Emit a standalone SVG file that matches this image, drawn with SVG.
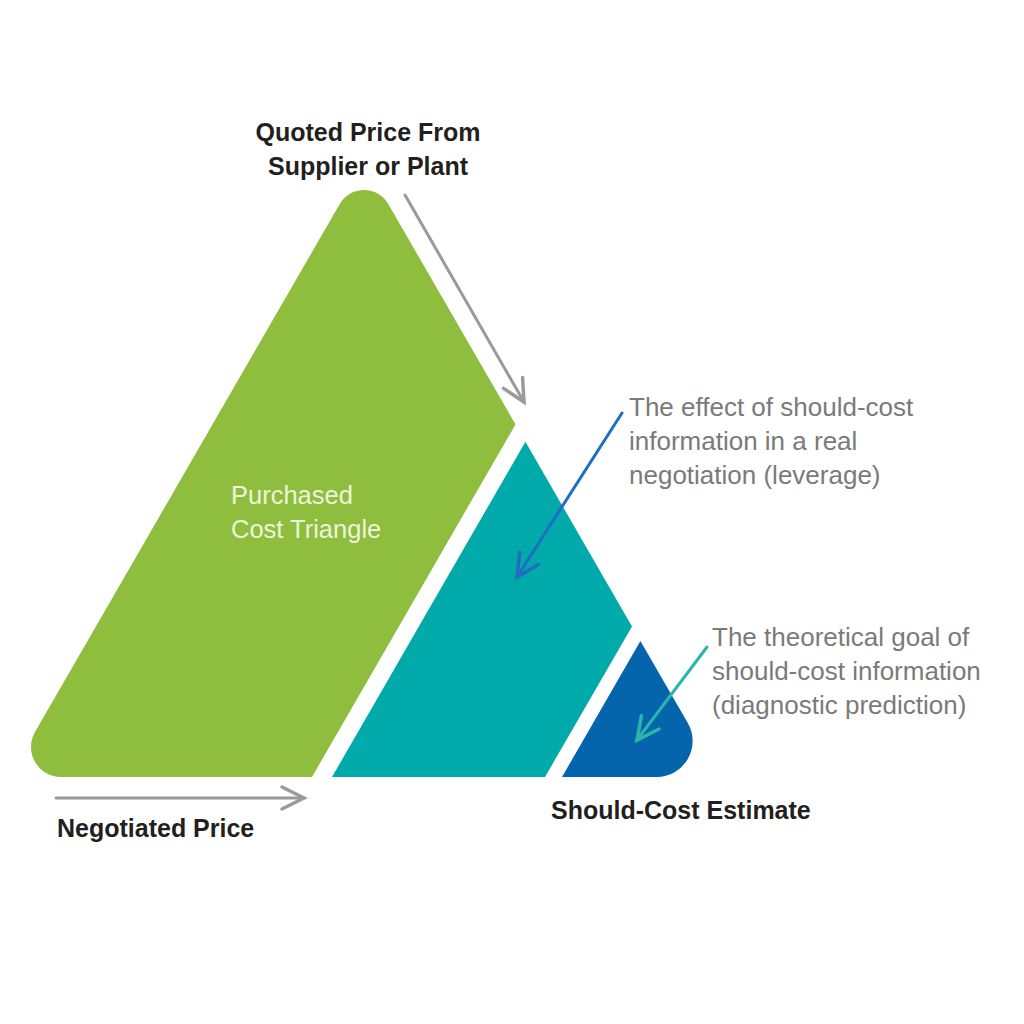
<svg xmlns="http://www.w3.org/2000/svg" width="1024" height="1024" viewBox="0 0 1024 1024">
<style>
.bold{font-family:"Liberation Sans",Arial,sans-serif;font-weight:bold;font-size:25px;fill:#231f20}
.note{font-family:"Liberation Sans",Arial,sans-serif;font-size:26px;fill:#7a7a7a}
.inner{font-family:"Liberation Sans",Arial,sans-serif;font-size:25.5px;fill:#eef4dc}
.conn{fill:none;stroke-width:3;stroke-linecap:round}
</style>
<defs>
<marker id="mGray" markerUnits="userSpaceOnUse" markerWidth="40" markerHeight="40" viewBox="-30 -20 40 40" refX="0" refY="0" orient="auto">
<path d="M-22 -11 L0 0 L-22 11" fill="none" stroke="#9a9a9a" stroke-width="3.5" stroke-linecap="round" stroke-linejoin="miter"/>
</marker>
<marker id="mBlue" markerUnits="userSpaceOnUse" markerWidth="40" markerHeight="40" viewBox="-30 -20 40 40" refX="0" refY="0" orient="auto">
<path d="M-22 -11 L0 0 L-22 11" fill="none" stroke="#1f6ec2" stroke-width="3.5" stroke-linecap="round"/>
</marker>
<marker id="mTeal" markerUnits="userSpaceOnUse" markerWidth="40" markerHeight="40" viewBox="-30 -20 40 40" refX="0" refY="0" orient="auto">
<path d="M-22 -11 L0 0 L-22 11" fill="none" stroke="#2bb5ad" stroke-width="3.5" stroke-linecap="round"/>
</marker>
</defs>
<rect width="1024" height="1024" fill="#ffffff"/>
<g id="purchased">
<path d="M339.75 204 A28 28 0 0 1 388.25 204 L515.5 424.4 L312 777 L61 777 A30 30 0 0 1 35 732 Z" fill="#8fbd3d"/>
<text class="inner" x="231" y="504">Purchased</text>
<text class="inner" x="231" y="538">Cost Triangle</text>
</g>
<g id="leverage">
<path d="M525.4 441.8 L632 626.4 L545 777 L332 777 Z" fill="#00a9aa"/>
</g>
<g id="shouldcost">
<path d="M640.4 641 L687.8 723 A36 36 0 0 1 656.6 777 L562 777 Z" fill="#0465ad"/>
</g>
<g id="labels">
<text class="bold" x="368" y="141" text-anchor="middle">Quoted Price From</text>
<text class="bold" x="368" y="175" text-anchor="middle">Supplier or Plant</text>
<text class="bold" x="57" y="837">Negotiated Price</text>
<text class="bold" x="551" y="819">Should-Cost Estimate</text>
<text class="note" x="629" y="416">The effect of should-cost</text>
<text class="note" x="629" y="450">information in a real</text>
<text class="note" x="629" y="484">negotiation (leverage)</text>
<text class="note" x="712" y="646">The theoretical goal of</text>
<text class="note" x="712" y="680">should-cost information</text>
<text class="note" x="712" y="714">(diagnostic prediction)</text>
</g>
<g id="connectors">
<line class="conn" x1="405" y1="195" x2="524" y2="402" stroke="#9a9a9a" marker-end="url(#mGray)"/>
<line class="conn" x1="56" y1="798" x2="304" y2="798" stroke="#9a9a9a" marker-end="url(#mGray)"/>
<line class="conn" x1="622" y1="413" x2="517" y2="577" stroke="#1f6ec2" marker-end="url(#mBlue)"/>
<line class="conn" x1="707" y1="647" x2="637" y2="740" stroke="#2bb5ad" marker-end="url(#mTeal)"/>
</g>
</svg>
